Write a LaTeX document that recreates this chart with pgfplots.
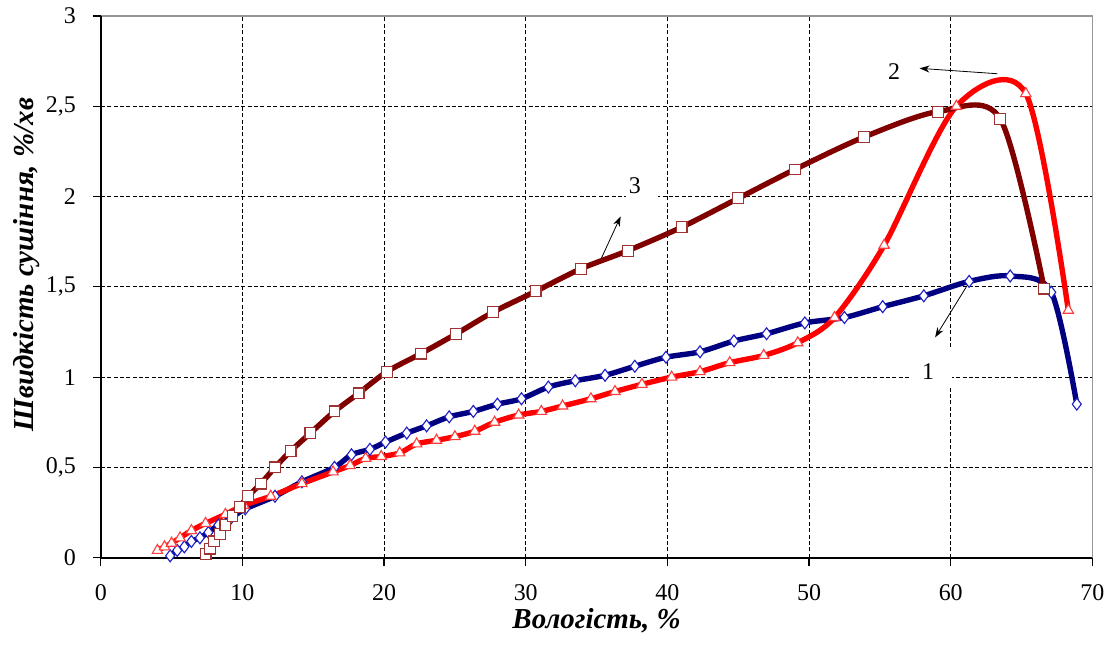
\documentclass[border=0pt]{standalone}
\usepackage{fontspec}
\setmainfont{Liberation Serif}
\usepackage{pgfplots}
\pgfplotsset{compat=1.18}
\usetikzlibrary{arrows.meta}

\definecolor{c1}{RGB}{0,0,128}
\definecolor{c1m}{RGB}{30,30,200}
\definecolor{c2}{RGB}{255,0,0}
\definecolor{c2m}{RGB}{255,60,60}
\definecolor{c3}{RGB}{128,0,0}
\definecolor{c3m}{RGB}{160,50,50}
\definecolor{frame}{RGB}{150,150,150}

\begin{document}
\begin{tikzpicture}
\begin{axis}[
    name=ax,
    scale only axis,
    width=497pt, height=271.5pt,
    xmin=0, xmax=70, ymin=0, ymax=3,
    xtick={0,10,...,70},
    ytick={0,0.5,...,3},
    xtick pos=bottom, ytick pos=left,
    tick align=outside,
    major tick length=4pt,
    tick style={black, line width=0.6pt},
    axis line style={draw=none},
    grid=major,
    grid style={black, dashed, line width=0.45pt, dash pattern=on 2pt off 1.2pt},
    /pgf/number format/use comma,
    /pgf/number format/assume math mode=true,
    ticklabel style={font=\fontsize{12}{14}\selectfont},
    yticklabel style={xshift=-5pt},
    xticklabel style={yshift=-6pt},
    xlabel={\textbf{\textit{Вологість, \%}}},
    ylabel={\textbf{\textit{Швидкість сушіння, \%/хв}}},
    label style={font=\fontsize{14.5}{17}\selectfont},
    xlabel style={at={(rel axis cs:0.5,0)}, anchor=center, yshift=-31.5pt},
    ylabel style={at={(rel axis cs:0,0.541)}, anchor=center, yshift=37pt},
    clip=false,
]
% frame: gray top/right, black left/bottom
\draw[frame, line width=0.7pt] (rel axis cs:0,1) -- (rel axis cs:1,1) -- (rel axis cs:1,0);
\draw[black, line width=1pt] (rel axis cs:0,1) -- (rel axis cs:0,0) -- (rel axis cs:1,0);

% series 1
\addplot[c1, line width=2.7pt, smooth, mark=diamond*,
    mark options={solid, fill=white, draw=c1m, line width=0.55pt, mark size=3pt}]
coordinates {
(4.9,0.01) (5.4,0.04) (5.9,0.06) (6.4,0.09) (7.0,0.11) (7.6,0.14) (8.3,0.18)
(9.2,0.22) (10.2,0.27) (12.3,0.34) (14.2,0.42) (16.5,0.50) (17.7,0.57) (19.0,0.60)
(20.1,0.64) (21.6,0.69) (23.0,0.73) (24.6,0.78) (26.3,0.81) (28.0,0.85) (29.7,0.88)
(31.6,0.945) (33.5,0.98) (35.6,1.01) (37.7,1.06) (39.9,1.11) (42.3,1.14) (44.7,1.20)
(47.0,1.24) (49.7,1.30) (52.5,1.33) (55.2,1.39) (58.1,1.45) (61.3,1.53) (64.2,1.56)
(67.1,1.47) (68.9,0.85)
};

% series 2
\addplot[c2, line width=2.7pt, smooth, mark=triangle*,
    mark options={solid, fill=white, draw=c2m, line width=0.55pt, mark size=3pt}]
coordinates {
(4.0,0.04) (4.5,0.06) (5.0,0.08) (5.6,0.11) (6.4,0.15) (7.4,0.19) (8.8,0.24)
(10.1,0.29) (12.0,0.34) (14.2,0.41) (16.4,0.475) (17.6,0.51) (18.7,0.55) (19.8,0.56)
(21.1,0.58) (22.3,0.63) (23.7,0.65) (25.0,0.67) (26.4,0.70) (27.8,0.75) (29.5,0.79)
(31.1,0.81) (32.6,0.84) (34.6,0.88) (36.3,0.92) (38.2,0.96) (40.3,1.00) (42.3,1.03)
(44.4,1.08) (46.8,1.12) (49.2,1.19) (51.8,1.33) (55.3,1.73) (60.4,2.50) (65.3,2.57)
(68.3,1.37)
};

% series 3
\addplot[c3, line width=2.7pt, smooth, mark=square*,
    mark options={solid, fill=white, draw=c3m, line width=0.55pt, mark size=2.7pt}]
coordinates {
(7.4,0.02) (7.7,0.05) (8.0,0.09) (8.4,0.13) (8.8,0.18) (9.3,0.23) (9.8,0.28)
(10.4,0.34) (11.3,0.41) (12.3,0.50) (13.4,0.59) (14.8,0.69) (16.5,0.81) (18.2,0.91)
(20.2,1.03) (22.6,1.13) (25.1,1.24) (27.7,1.36) (30.7,1.475) (33.9,1.60) (37.2,1.70)
(41.0,1.83) (45.0,1.99) (49.0,2.15) (53.9,2.33) (59.1,2.47) (63.5,2.43) (66.6,1.49)
};

% curve labels
\fill[white] (axis cs:37.05,1.93) rectangle (axis cs:39.35,2.2);
\node[font=\fontsize{12}{14}\selectfont] at (axis cs:37.7,2.06) {3};
\draw[-{Stealth[length=5pt,width=3.5pt]}, line width=0.4pt] (axis cs:35.35,1.66) -- (axis cs:36.7,1.89);

\node[font=\fontsize{12}{14}\selectfont] at (axis cs:56.0,2.69) {2};
\draw[-{Stealth[length=5pt,width=3.5pt]}, line width=0.4pt] (axis cs:63.3,2.68) -- (axis cs:57.8,2.71);

\fill[white] (axis cs:57.3,0.95) rectangle (axis cs:60.1,1.155);
\node[font=\fontsize{12}{14}\selectfont] at (axis cs:58.4,1.03) {1};
\draw[-{Stealth[length=5pt,width=3.5pt]}, line width=0.4pt] (axis cs:61.3,1.525) -- (axis cs:58.9,1.22);
\end{axis}
\path ([shift={(-50.5pt,-47.5pt)}]ax.south west) rectangle ([shift={(8pt,8pt)}]ax.north east);
\end{tikzpicture}
\end{document}
